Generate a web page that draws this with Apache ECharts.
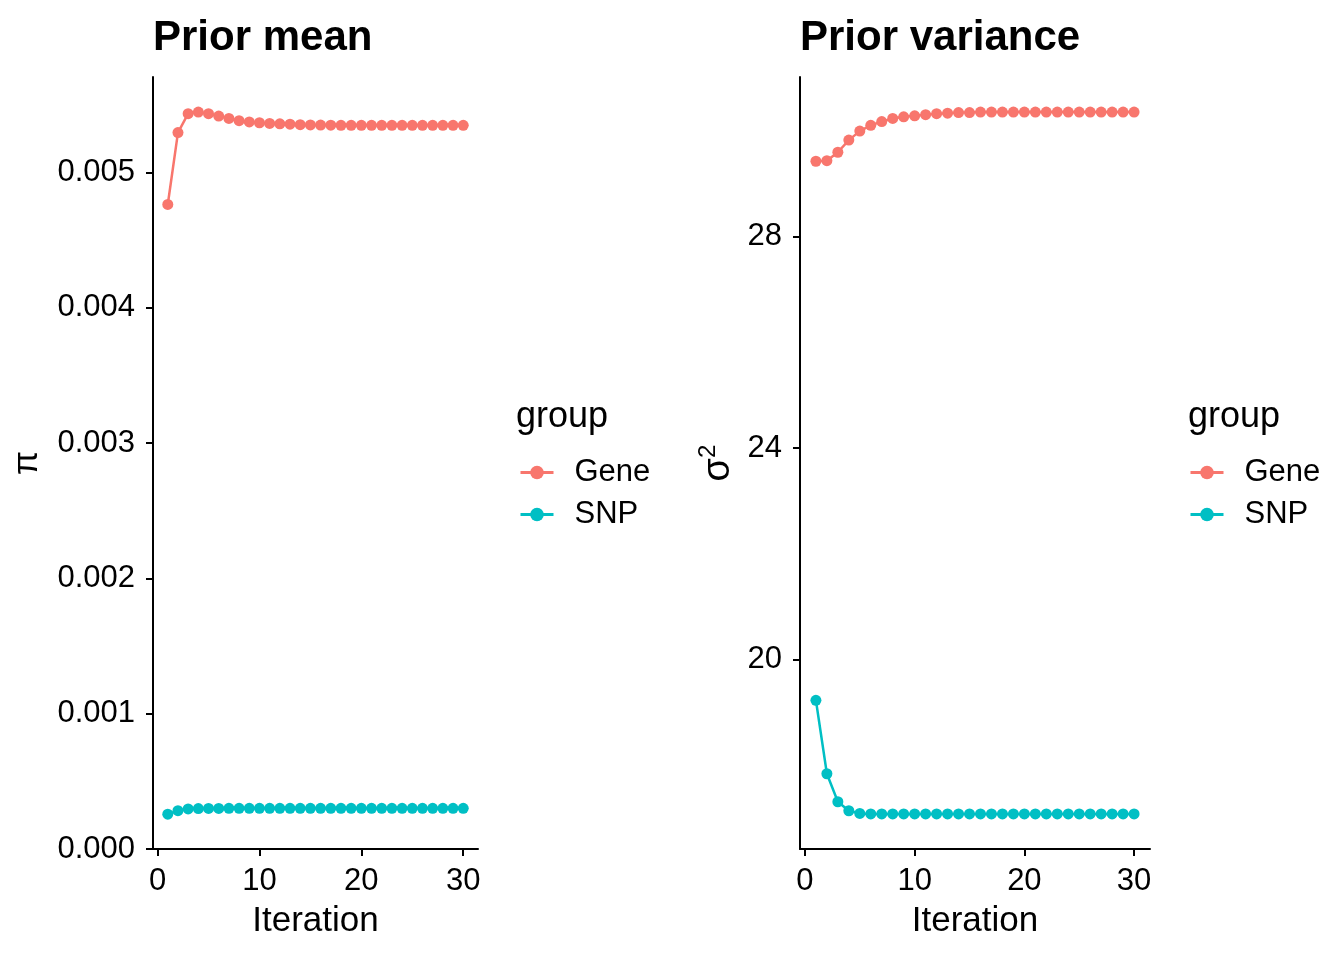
<!DOCTYPE html>
<html>
<head>
<meta charset="utf-8">
<script src="https://cdn.jsdelivr.net/npm/echarts@6/dist/echarts.min.js"></script>
<style>html,body{margin:0;padding:0;background:#fff}#c{width:1344px;height:960px}</style>
</head>
<body>
<div id="c"></div>
<script>
const iterations = [1,2,3,4,5,6,7,8,9,10,11,12,13,14,15,16,17,18,19,20,21,22,23,24,25,26,27,28,29,30];
const meanGene = [0.004763,0.005294,0.005434,0.005446,0.005434,0.005416,0.005399,0.005382,0.005373,0.005367,0.005362,0.005359,0.005356,0.005353,0.005351,0.005350,0.005349,0.005348,0.005348,0.005348,0.005348,0.005348,0.005348,0.005348,0.005348,0.005348,0.005348,0.005348,0.005348,0.005348];
const meanSNP = [0.000257,0.000283,0.000296,0.000299,0.000300,0.000300,0.000301,0.000301,0.000301,0.000301,0.000301,0.000301,0.000301,0.000301,0.000301,0.000301,0.000301,0.000301,0.000301,0.000301,0.000301,0.000301,0.000301,0.000301,0.000301,0.000301,0.000301,0.000301,0.000301,0.000301];
const varGene = [29.43,29.44,29.60,29.83,30.00,30.11,30.18,30.24,30.27,30.29,30.31,30.33,30.34,30.35,30.35,30.36,30.36,30.36,30.36,30.36,30.36,30.36,30.36,30.36,30.36,30.36,30.36,30.36,30.36,30.36];
const varSNP = [19.23,17.84,17.31,17.14,17.09,17.08,17.08,17.08,17.08,17.08,17.08,17.08,17.08,17.08,17.08,17.08,17.08,17.08,17.08,17.08,17.08,17.08,17.08,17.08,17.08,17.08,17.08,17.08,17.08,17.08];
const xTicks = [0,10,20,30];
const meanTicks = [0,0.001,0.002,0.003,0.004,0.005];
const varTicks = [20,24,28];
const groups = ['Gene','SNP'];

const colors = {Gene:'#F8766D', SNP:'#00BFC4'};
const FONT = 'Liberation Sans, Arial, Helvetica, sans-serif';
const TICKFS = 31;
const pairs = (ys) => iterations.map((x,i)=>[x, ys[i]]);

const axisCommon = {
  axisLine:{show:true, onZero:false, lineStyle:{color:'#000', width:2}},
  axisTick:{show:true, inside:false, length:7, lineStyle:{color:'#000', width:2}},
  splitLine:{show:false},
  nameTextStyle:{color:'#000', fontSize:35, fontFamily:FONT}
};
function xAxis(gi){
  return Object.assign({}, axisCommon, {
    type:'value', gridIndex:gi, min:-0.45, max:31.45,
    name:'Iteration', nameLocation:'middle', nameGap:55,
    axisTick:Object.assign({}, axisCommon.axisTick, {customValues:xTicks}),
    axisLabel:{customValues:xTicks, color:'#000', fontSize:TICKFS, fontFamily:FONT, margin:17}
  });
}
const chart = echarts.init(document.getElementById('c'));
const series = [];
[[meanGene,meanSNP,0],[varGene,varSNP,1]].forEach(([g,s,gi])=>{
  [[g,'Gene'],[s,'SNP']].forEach(([d,name])=>{
    series.push({
      type:'line', name:name, xAxisIndex:gi, yAxisIndex:gi, data:pairs(d),
      symbol:'circle', symbolSize:11, showSymbol:true,
      lineStyle:{color:colors[name], width:2.5},
      itemStyle:{color:colors[name]},
      emphasis:{disabled:true}, animation:false
    });
  });
});
function legend(left){
  return {
    show:true, orient:'vertical', left:left, top:457, padding:0,
    itemWidth:33, itemHeight:17, itemGap:11,
    data:groups,
    lineStyle:{width:3},
    textStyle:{color:'#000', fontSize:31, fontFamily:FONT, padding:[0,0,0,16]},
    selectedMode:false
  };
}
chart.setOption({
  backgroundColor:'#fff',
  animation:false,
  title:[
    {text:'Prior mean', left:153, top:17, padding:0, textStyle:{fontSize:42, fontWeight:'bold', color:'#000', fontFamily:FONT}},
    {text:'Prior variance', left:800, top:17, padding:0, textStyle:{fontSize:42, fontWeight:'bold', color:'#000', fontFamily:FONT}},
    {text:'group', left:516, top:399, padding:0, textStyle:{fontSize:36, fontWeight:'normal', color:'#000', fontFamily:FONT}},
    {text:'group', left:1188, top:399, padding:0, textStyle:{fontSize:36, fontWeight:'normal', color:'#000', fontFamily:FONT}}
  ],
  legend:[legend(519), legend(1189)],
  grid:[
    {left:153, top:77, width:325, height:772, containLabel:false},
    {left:800, top:77, width:350, height:772, containLabel:false}
  ],
  xAxis:[xAxis(0), xAxis(1)],
  yAxis:[
    Object.assign({}, axisCommon, {
      type:'value', gridIndex:0, min:0, max:0.005705,
      name:'π', nameLocation:'middle', nameGap:108, nameRotate:90,
      axisTick:Object.assign({}, axisCommon.axisTick, {customValues:meanTicks}),
      axisLabel:{customValues:meanTicks, color:'#000', fontSize:TICKFS, fontFamily:FONT, margin:18,
        formatter:(v)=>v.toFixed(3)}
    }),
    Object.assign({}, axisCommon, {
      type:'value', gridIndex:1, min:16.416, max:31.024,
      name:'{s|σ}{p|2}', nameLocation:'middle', nameGap:62, nameRotate:90,
      nameTextStyle:{color:'#000', fontFamily:FONT, rich:{
        s:{fontSize:38, fontFamily:FONT, color:'#000', verticalAlign:'bottom'},
        p:{fontSize:24, fontFamily:FONT, color:'#000', verticalAlign:'top', padding:[0,0,18,0]}
      }},
      axisTick:Object.assign({}, axisCommon.axisTick, {customValues:varTicks}),
      axisLabel:{customValues:varTicks, color:'#000', fontSize:TICKFS, fontFamily:FONT, margin:18}
    })
  ],
  series:series
});
</script>
</body>
</html>
